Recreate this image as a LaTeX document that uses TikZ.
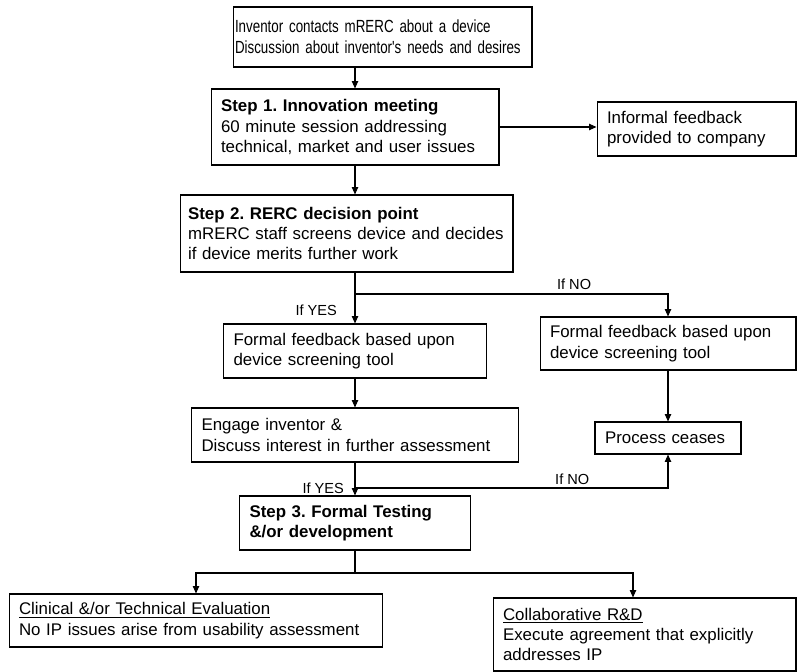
\documentclass[tikz,border=0pt]{standalone}
\usepackage{fontspec}
\setmainfont{Liberation Sans}
\newfontfamily\narrowfont{Liberation Sans}[FakeStretch=0.76,WordSpace=0.7]
\usetikzlibrary{arrows.meta}
\tikzset{
	box/.style={draw, rectangle, align=left, inner ysep=0pt, line width=0.6pt, font=\fontsize{9.6}{11.6}\selectfont},
	lbl/.style={inner sep=0pt, font=\fontsize{8.3}{10}\selectfont},
	>={Triangle[width=3.6pt,length=4.2pt]}
}
\frenchspacing
\hyphenpenalty=10000

\begin{document}
\begin{tikzpicture}[x=0.02cm, y=-0.02cm, line width=0.6pt]
	\useasboundingbox (0,0) rectangle (797,672);

	\node [box, inner xsep=0.04cm, text width=5.9cm, minimum height=1.2cm, font=\narrowfont\fontsize{10}{12}\selectfont] (intro) at (382.5,37) {Inventor contacts mRERC about a device\\Discussion about inventor's needs and desires};
	\node [box, inner xsep=0.2cm, text width=5.36cm, minimum height=1.52cm] (step1) at (355,127) {\textbf{Step 1. Innovation meeting}\\60 minute session addressing\\technical, market and user issues};
	\node [box, inner xsep=0.2cm, text width=3.58cm, minimum height=1.08cm] (informal) at (696.5,129) {Informal feedback\\provided to company};
	\node [box, inner xsep=0.16cm, text width=6.34cm, minimum height=1.54cm] (step2) at (346.5,233.5) {\textbf{Step 2. RERC decision point}\\mRERC staff screens device and decides\\if device merits further work};
	\node [box, inner xsep=0.2cm, text width=4.86cm, minimum height=1.08cm] (yesfb) at (355,351) {Formal feedback based upon\\device screening tool};
	\node [box, inner xsep=0.2cm, text width=4.72cm, minimum height=1.06cm] (nofb) at (668,343.5) {Formal feedback based upon\\device screening tool};
	\node [box, inner xsep=0.2cm, text width=6.14cm, minimum height=1.08cm] (engage) at (355,435) {Engage inventor \&\\Discuss interest in further assessment};
	\node [box, inner xsep=0.2cm, text width=2.52cm, minimum height=0.64cm] (ceases) at (668,438) {Process ceases};
	\node [box, inner xsep=0.2cm, text width=4.22cm, minimum height=1.08cm] (step3) at (355,523) {\textbf{Step 3. Formal Testing}\\\textbf{\&/or development}};
	\node [box, inner xsep=0.2cm, text width=7.08cm, minimum height=1.06cm] (clinical) at (196,620.5) {\underline{Clinical \&/or Technical Evaluation}\\No IP issues arise from usability assessment};
	\node [box, inner xsep=0.2cm, text width=5.66cm, minimum height=1.46cm] (collab) at (644.5,634.5) {\underline{Collaborative R\&D}\\Execute agreement that explicitly\\addresses IP};

	\coordinate (nosplit) at (355,294);
	\coordinate (nojoin) at (355,488);
	\coordinate (fork) at (355,573);

	\draw [->] (intro.south -| step1.north) -- (step1.north);
	\draw [->] (step1.east) -- (step1.east -| informal.west);
	\draw [->] (step1.south) -- (step1.south |- step2.north);
	\draw [->] (step1.south |- step2.south) -- node[lbl, pos=0.75, left=10pt] {If YES} (yesfb.north);
	\draw [->] (nosplit) -| node[lbl, pos=0.35, above=2pt] {If NO} (nofb.north);
	\draw [->] (yesfb.south) -- (engage.north);
	\draw [->] (nofb.south) -- (ceases.north);
	\draw [->] (engage.south) -- node[lbl, pos=0.79, left=6pt] {If YES} (step3.north);
	\draw [->] (nojoin) -| node[lbl, pos=0.347, above=1.5pt] {If NO} (ceases.south);
	\draw (step3.south) -- (fork);
	\draw [->] (fork) -| (clinical.north);
	\draw [->] (fork) -| ([xshift=-0.23cm]collab.north);
\end{tikzpicture}
\end{document}
